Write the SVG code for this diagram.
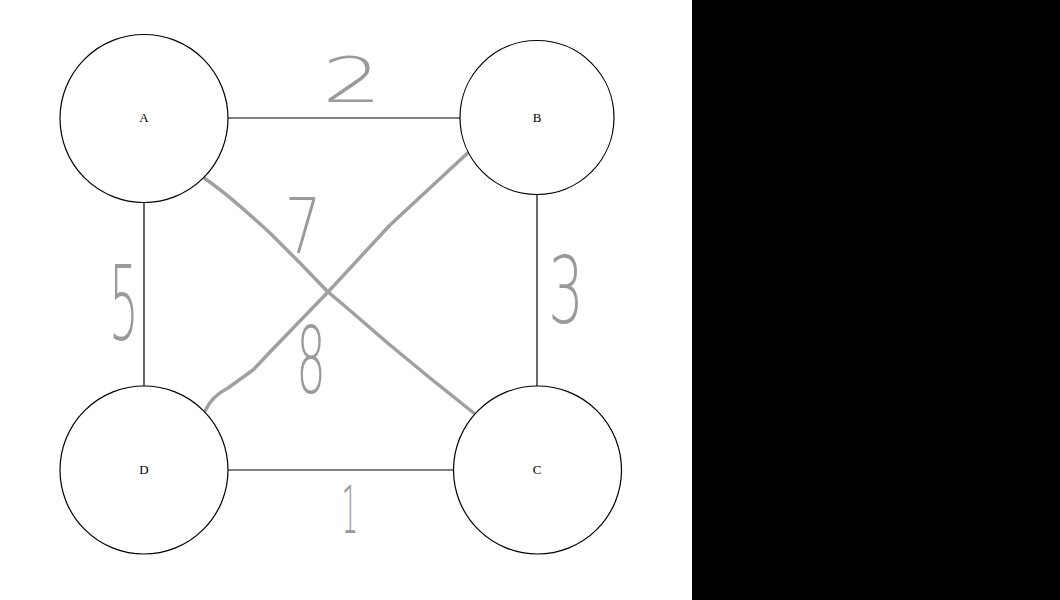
<svg xmlns="http://www.w3.org/2000/svg" width="1060" height="600" viewBox="0 0 1060 600">
<style>
.node{fill:#fff;stroke:#000;stroke-width:1.2}
.lbl{font-family:"Liberation Serif","DejaVu Serif",serif;font-size:13px;fill:#000;text-anchor:middle}
.edge{stroke:#000;stroke-width:1.2;fill:none}
.hand{stroke:#a0a0a0;stroke-width:3.5;fill:none;stroke-linecap:round;stroke-linejoin:round}
.w{font-family:"DejaVu Sans","Liberation Sans",sans-serif;font-weight:200;fill:#9a9a9a;text-anchor:middle}
</style>
<rect x="0" y="0" width="1060" height="600" fill="#fff"/>
<rect x="692" y="0" width="368" height="600" fill="#000"/>
<g id="connectors">
<line class="edge" x1="228" y1="118" x2="460" y2="118"/>
<line class="edge" x1="537" y1="195" x2="537" y2="386"/>
<line class="edge" x1="144" y1="203" x2="144" y2="386"/>
<line class="edge" x1="228" y1="470" x2="453" y2="470"/>
<path class="hand" d="M204,178 C225,192 245,210 270,233 L300,263 L328,292 C350,310 370,328 390,345 L430,378 L480,418"/>
<path class="hand" d="M205,411 Q212,396 228,388 L253,370 L270,352 L328,292 L390,225 L472,149"/>
</g>
<g id="node-A"><circle class="node" cx="144" cy="118.5" r="84"/><text class="lbl" x="144" y="122">A</text></g>
<g id="node-B"><circle class="node" cx="537" cy="117.5" r="77"/><text class="lbl" x="537" y="122">B</text></g>
<g id="node-D"><circle class="node" cx="144" cy="470" r="84"/><text class="lbl" x="144" y="474">D</text></g>
<g id="node-C"><circle class="node" cx="537.5" cy="470" r="84"/><text class="lbl" x="537" y="474">C</text></g>
<g id="weights">
<text class="w" transform="translate(352,102) scale(1.5,1)" font-size="63">2</text>
<text class="w" transform="translate(303,253) scale(0.75,1)" font-size="77">7</text>
<text class="w" transform="translate(124,340) scale(0.45,1)" font-size="104">5</text>
<text class="w" transform="translate(566,323) scale(0.6,1)" font-size="93">3</text>
<text class="w" transform="translate(311,393) scale(0.5,1)" font-size="93">8</text>
<text class="w" transform="translate(350,533) scale(0.4,1)" font-size="66">1</text>
</g>
</svg>
